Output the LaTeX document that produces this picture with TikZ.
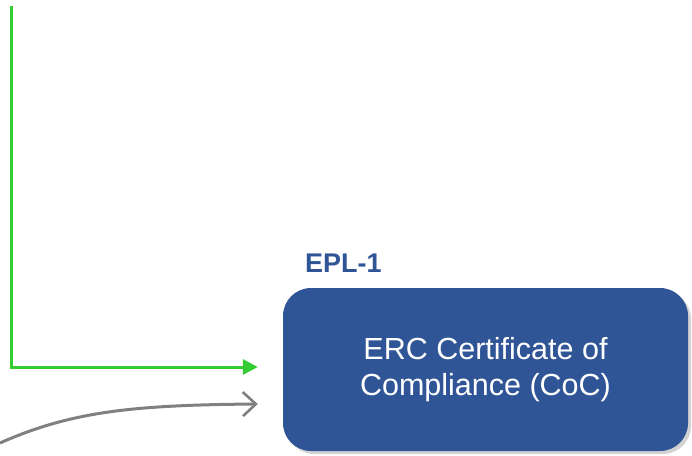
\documentclass[tikz,border=0pt]{standalone}
\usepackage{fontspec}
\setmainfont{Liberation Sans}
\usetikzlibrary{arrows.meta,shadows,calc}
\definecolor{boxblue}{HTML}{2F5597}
\definecolor{lgreen}{HTML}{33CC33}
\definecolor{cgray}{HTML}{808080}
\begin{document}
\begin{tikzpicture}[x=1pt,y=-1pt,
  cocbox/.style={draw=none, fill=boxblue, rounded corners=28pt, minimum width=405pt, minimum height=163pt,
    text=white, align=center, font=\fontsize{30.5}{36.5}\selectfont,
    drop shadow={shadow xshift=3pt, shadow yshift=-3pt, opacity=0.35, fill=gray}},
  eplabel/.style={text=boxblue, font=\fontsize{27}{30}\selectfont\bfseries, inner sep=0pt, anchor=base west},
  greenline/.style={draw=lgreen, line width=3pt, -{Triangle[length=15pt,width=15pt]}},
  grayline/.style={draw=cgray, line width=3pt, -{Straight Barb[length=13pt,width=24pt,line width=2.6pt]}}
]
\path[use as bounding box] (0,0) rectangle (692,455);
\node[cocbox] (coc) at (485.5,369.5) {ERC Certificate of\\Compliance (CoC)};
\node[eplabel] (epl) at (305,272) {EPL-1};
\coordinate (gtop) at (11,6);
\coordinate (gcorner) at (11,367);
\coordinate (gin) at ($(coc.west)+(-25,-2.5)$);
\coordinate (cstart) at (0,443);
\coordinate (cin) at ($(coc.west)+(-25,34.5)$);
\draw[greenline] (gtop) -- (gcorner) -- (gin);
\draw[grayline] (cstart) .. controls (70,412) and (130,405) .. (cin);
\end{tikzpicture}
\end{document}
